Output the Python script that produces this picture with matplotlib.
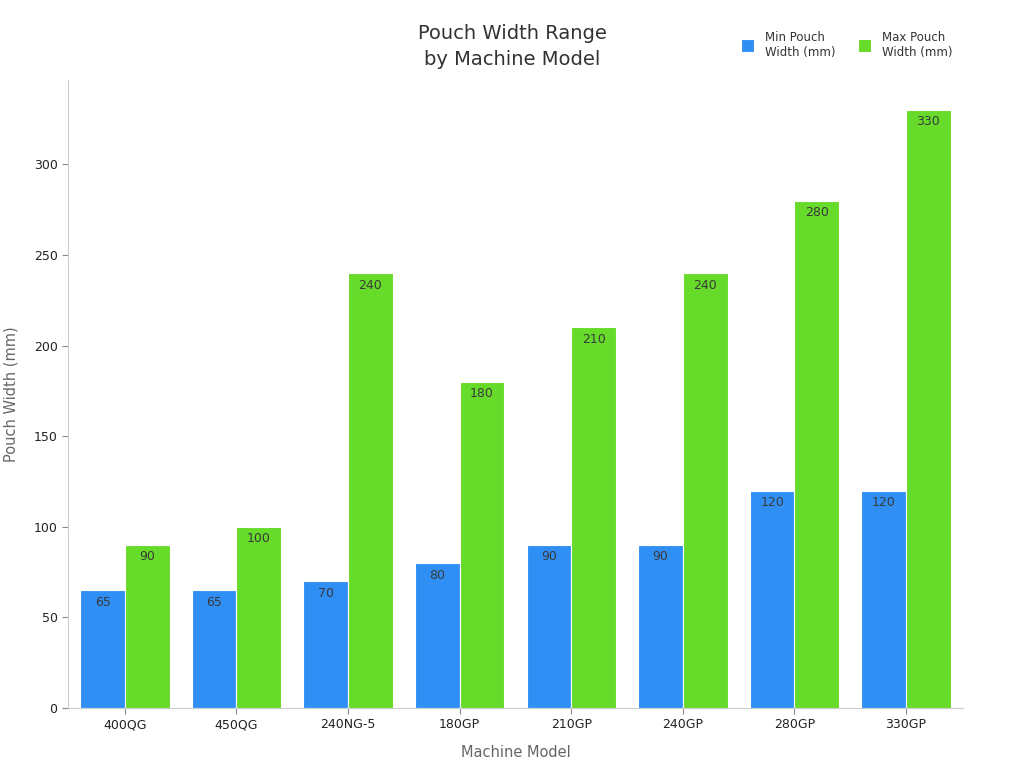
import matplotlib
matplotlib.use("Agg")
import matplotlib.pyplot as plt
import numpy as np

models = ["400QG", "450QG", "240NG-5", "180GP", "210GP", "240GP", "280GP", "330GP"]
min_width = [65, 65, 70, 80, 90, 90, 120, 120]
max_width = [90, 100, 240, 180, 210, 240, 280, 330]
series_names = ["Min Pouch\nWidth (mm)", "Max Pouch\nWidth (mm)"]
colors = ["#2f8ff5", "#66db2a"]

fig = plt.figure(figsize=(10.24, 7.68), dpi=100)
ax = fig.add_axes([0.0664, 0.0781, 0.874, 0.8177])

x = np.arange(len(models))
w = 0.4
b1 = ax.bar(x - w/2, min_width, w, color=colors[0], edgecolor="white", linewidth=0.8, label=series_names[0])
b2 = ax.bar(x + w/2, max_width, w, color=colors[1], edgecolor="white", linewidth=0.8, label=series_names[1])

for bars, vals in ((b1, min_width), (b2, max_width)):
    for r, v in zip(bars, vals):
        ax.annotate(str(v), (r.get_x() + r.get_width()/2, r.get_height()),
                    xytext=(0, -4.0), textcoords="offset points",
                    ha="center", va="top", fontsize=9, color="#3a3a3a")

ax.set_xlim(-0.51, 7.51)
ax.set_ylim(0, 346.5)
ax.set_xticks(x)
ax.set_xticklabels(models, fontsize=9, color="#222222")
ax.set_yticks([0, 50, 100, 150, 200, 250, 300])
ax.tick_params(axis="y", labelsize=9, labelcolor="#222222", color="#888888", length=4)
ax.tick_params(axis="x", color="#888888", length=4)
for s in ["top", "right"]:
    ax.spines[s].set_visible(False)
for s in ["left", "bottom"]:
    ax.spines[s].set_color("#cccccc")
ax.set_xlabel("Machine Model", fontsize=10.5, color="#666666", labelpad=10)
ax.set_ylabel("Pouch Width (mm)", fontsize=10.5, color="#666666", labelpad=11)

fig.text(0.5, 0.939, "Pouch Width Range\nby Machine Model", ha="center", va="center",
         fontsize=14, color="#333333", linespacing=1.45)

leg = fig.legend(handles=[b1, b2], loc="center", bbox_to_anchor=(0.827, 0.942), ncol=2,
                 frameon=False, fontsize=8.5, handlelength=1.1, handleheight=1.35,
                 columnspacing=1.9, handletextpad=0.95, labelcolor="#333333")

fig.savefig("out.png", dpi=100)
